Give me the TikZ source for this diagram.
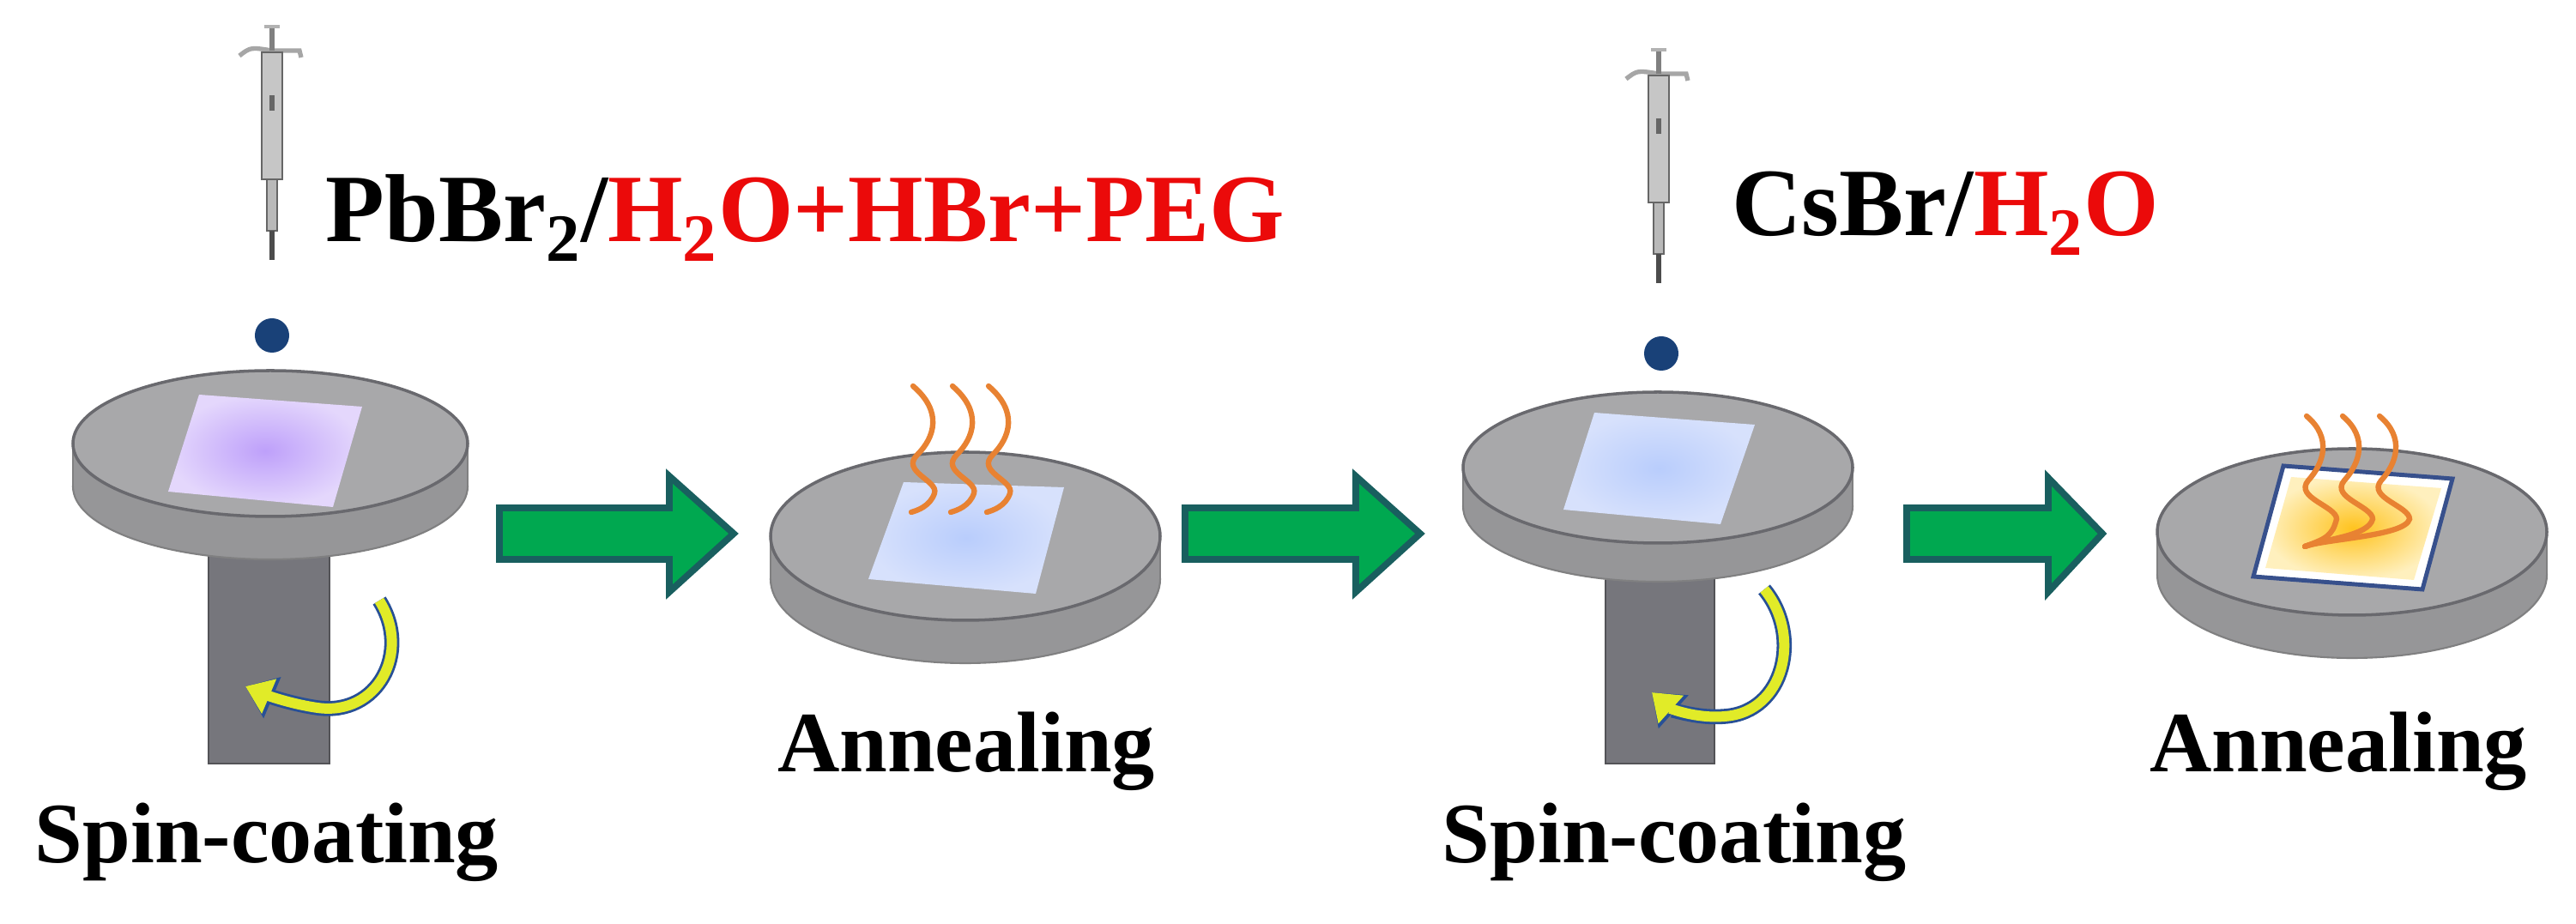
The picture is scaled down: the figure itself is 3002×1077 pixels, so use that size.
\documentclass[tikz,border=0pt]{standalone}
\usepackage{fontspec}
\setmainfont{Liberation Serif}
\usetikzlibrary{arrows.meta}
\definecolor{plateTop}{RGB}{168,168,170}
\definecolor{plateRim}{RGB}{150,150,152}
\definecolor{plateEdge}{RGB}{105,105,110}
\definecolor{colGray}{RGB}{118,118,124}
\definecolor{arrGreen}{RGB}{0,168,80}
\definecolor{arrEdge}{RGB}{25,95,95}
\definecolor{redT}{RGB}{235,10,10}
\definecolor{waveC}{RGB}{232,130,50}
\definecolor{dropC}{RGB}{25,65,120}
\definecolor{rotY}{RGB}{225,235,40}
\definecolor{rotB}{RGB}{40,80,150}
\tikzset{
  lbl/.style={font=\fontsize{28.5}{32}\selectfont\bfseries, inner sep=0pt},
  sol/.style={font=\fontsize{32}{36}\selectfont\bfseries, inner sep=0pt, anchor=base west},
  flow/.style={fill=arrGreen, draw=arrEdge, line width=2.2pt},
  wave/.style={draw=waveC, line width=1.8pt, line cap=round},
  rot/.style={draw=rotY, line width=3.4pt, -{Triangle[length=0.3cm,width=0.42cm]},
     preaction={draw=rotB, line width=5pt, -{Triangle[length=0.34cm,width=0.5cm]}}},
}
\newcommand{\myplate}[5]{% cx cy rx ry thick
  \fill[plateRim, draw=plateRim!85!black, line width=0.6pt] (#1,#2+#5) ellipse [x radius=#3, y radius=#4];
  \fill[plateRim] (#1-#3,#2) rectangle (#1+#3,#2+#5);
  \draw[plateRim!85!black, line width=0.6pt] (#1-#3,#2) -- (#1-#3,#2+#5) (#1+#3,#2) -- (#1+#3,#2+#5);
  \fill[plateTop, draw=plateEdge, line width=1pt] (#1,#2) ellipse [x radius=#3, y radius=#4];
}
\newcommand{\mypipette}[2]{% x top
  \draw[gray!70, line width=1.5pt] (#1-38,#2+34) .. controls (#1-25,#2+24) .. (#1,#2+28) -- (#1+32,#2+28) -- (#1+34,#2+36);
  \draw[gray, line width=1.5pt] (#1,#2) -- (#1,#2+28);
  \draw[gray!60, line width=1.2pt] (#1-9,#2) -- (#1+9,#2);
  \fill[gray!45, draw=gray!80!black, line width=0.5pt] (#1-12,#2+30) rectangle (#1+12,#2+178);
  \fill[black!60] (#1-3,#2+80) rectangle (#1+3,#2+98);
  \fill[gray!55, draw=gray!80!black, line width=0.4pt] (#1-6,#2+178) rectangle (#1+6,#2+238);
  \fill[gray!60!black] (#1-3,#2+238) rectangle (#1+3,#2+272);
}
\begin{document}
\begin{tikzpicture}[x=0.01cm,y=-0.01cm]
\useasboundingbox (0,0) rectangle (3002,1077);
\fill[white] (0,0) rectangle (3002,1077);

% ---------- Spin coater 1 ----------
\fill[colGray, draw=colGray!70!black, line width=0.6pt] (243,560) rectangle (384,890);
\myplate{315}{517}{230}{85}{50}
\shade[inner color={rgb,255:red,190;green,160;blue,250}, outer color={rgb,255:red,228;green,215;blue,252}]
  (232,460) -- (422,474) -- (388,591) -- (196,573) -- cycle;
\draw[rot] (442,700) .. controls (480,760) and (440,835) .. (370,825) .. controls (335,820) and (305,808) .. (286,800);
\node[circle, fill=dropC, minimum size=0.4cm, inner sep=0pt] (drop1) at (317,391) {};
\mypipette{317}{31}
\node[sol] (sol1) at (379,282) {PbBr\textsubscript{2}/\textcolor{redT}{H\textsubscript{2}O+HBr+PEG}};
\node[lbl] (lab1) at (311,982) {Spin-coating};

% ---------- Arrow 1 ----------
\path[flow] (582,592) -- (780,592) -- (780,555) -- (855,622) -- (780,690) -- (780,652) -- (582,652) -- cycle;

% ---------- Annealing 1 ----------
\myplate{1125}{625}{227}{98}{50}
\shade[inner color={rgb,255:red,185;green,205;blue,252}, outer color={rgb,255:red,215;green,225;blue,252}]
  (1053,562) -- (1240,568) -- (1207,692) -- (1012,675) -- cycle;
\foreach \x in {1064,1110,1152} {
  \draw[wave] (\x,450) .. controls (\x+35,480) and (\x+25,510) .. (\x+5,530)
     .. controls (\x-15,550) and (\x+30,560) .. (\x+25,575) .. controls (\x+20,590) and (\x+5,595) .. (\x-2,597);
}
\node[lbl, anchor=base] (lab2) at (1126,900) {Annealing};

% ---------- Arrow 2 ----------
\path[flow] (1381,592) -- (1580,592) -- (1580,555) -- (1655,622) -- (1580,690) -- (1580,652) -- (1381,652) -- cycle;

% ---------- Spin coater 2 ----------
\fill[colGray, draw=colGray!70!black, line width=0.6pt] (1871,580) rectangle (1998,890);
\myplate{1932}{545}{227}{88}{45}
\shade[inner color={rgb,255:red,185;green,205;blue,252}, outer color={rgb,255:red,215;green,225;blue,252}]
  (1858,481) -- (2045,495) -- (2005,611) -- (1822,594) -- cycle;
\draw[rot] (2056,687) .. controls (2100,740) and (2080,830) .. (2010,835) .. controls (1975,838) and (1945,825) .. (1925,807);
\node[circle, fill=dropC, minimum size=0.4cm, inner sep=0pt] (drop2) at (1936,412) {};
\mypipette{1933}{58}
\node[sol] (sol2) at (2018,275) {CsBr/\textcolor{redT}{H\textsubscript{2}O}};
\node[lbl] (lab3) at (1951,982) {Spin-coating};

% ---------- Arrow 3 ----------
\path[flow] (2222,592) -- (2387,592) -- (2387,557) -- (2450,622) -- (2387,690) -- (2387,652) -- (2222,652) -- cycle;

% ---------- Annealing 2 ----------
\myplate{2741}{620}{227}{97}{50}
\fill[white, draw={rgb,255:red,55;green,80;blue,140}, line width=1.4pt]
  (2661,543) -- (2858,558) -- (2823,687) -- (2626,672) -- cycle;
\shade[inner color={rgb,255:red,255;green,195;blue,30}, outer color={rgb,255:red,255;green,240;blue,190}]
  (2670,556) -- (2845,569) -- (2813,676) -- (2640,662) -- cycle;
\foreach \x in {2688,2730,2773} {
  \draw[wave] (\x,485) .. controls (\x+30,510) and (\x+20,540) .. (\x+2,560)
     .. controls (\x-15,580) and (\x+35,590) .. (\x+35,605)
     .. controls (\x+30,625) and (2710,628) .. (2686,637);
}
\node[lbl, anchor=base] (lab4) at (2725,900) {Annealing};
\end{tikzpicture}
\end{document}
